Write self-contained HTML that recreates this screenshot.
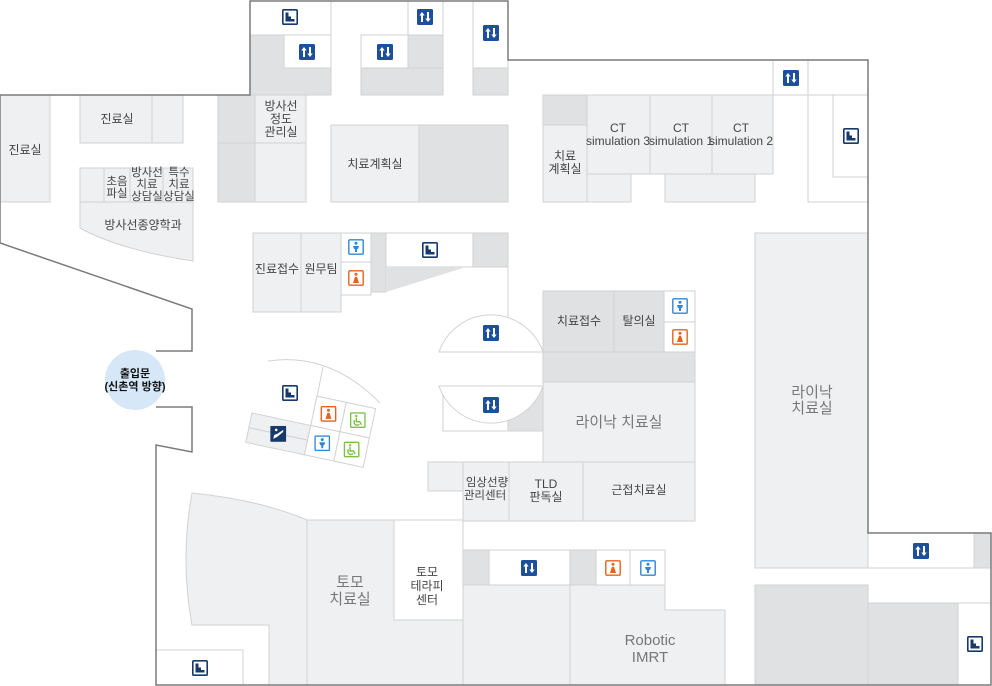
<!DOCTYPE html>
<html><head><meta charset="utf-8"><style>
html,body{margin:0;padding:0;background:#fff;}
svg{display:block;}
text{font-family:"Liberation Sans","Noto Sans CJK KR",sans-serif;fill:#444;font-size:12px;text-anchor:middle;}
.big{font-size:15px;fill:#777;}
.s{font-size:11.5px;}
.l{fill:#eff0f2;stroke:#d2d2d2;stroke-width:1;}
.d{fill:#e0e1e3;stroke:#d2d2d2;stroke-width:1;}
.w{fill:#fff;stroke:#d2d2d2;stroke-width:1;}
</style></head><body>
<svg width="992" height="686" viewBox="0 0 992 686" xmlns="http://www.w3.org/2000/svg">
<defs>
<symbol id="ev" viewBox="0 0 16 16"><rect width="16" height="16" rx="1.5" fill="#1d4f9c"/><path d="M5 3 L2.3 6.5 H4 V13 H6 V6.5 H7.7 Z M11 13 L8.3 9.5 H10 V3 H12 V9.5 H13.7 Z" fill="#fff"/></symbol>
<symbol id="st" viewBox="0 0 16 16"><rect x="0.8" y="0.8" width="14.4" height="14.4" rx="1" fill="#fff" stroke="#17396b" stroke-width="1.6"/><path d="M3.5 3.5 H6.5 V7.5 H9 V10 H12.5 V12.5 H3.5 Z" fill="#17396b"/></symbol>
<symbol id="ml" viewBox="0 0 16 16"><rect x="0.8" y="0.8" width="14.4" height="14.4" rx="1" fill="#fff" stroke="#2f86d6" stroke-width="1.4"/><circle cx="8" cy="4.3" r="1.5" fill="#2f86d6"/><path d="M5 7 H11 L10 10 H9 V13 H7 V10 H6 Z" fill="#2f86d6"/></symbol>
<symbol id="fm" viewBox="0 0 16 16"><rect x="0.8" y="0.8" width="14.4" height="14.4" rx="1" fill="#fff" stroke="#e8621f" stroke-width="1.4"/><circle cx="8" cy="4.3" r="1.5" fill="#e8621f"/><path d="M7 6.8 H9 L11 13 H5 Z" fill="#e8621f"/></symbol>
<symbol id="wc" viewBox="0 0 16 16"><rect x="0.8" y="0.8" width="14.4" height="14.4" rx="1" fill="#fff" stroke="#7ac143" stroke-width="1.4"/><circle cx="6.5" cy="3.8" r="1.2" fill="#7ac143"/><path d="M6.5 5.5 V9.5 H10 L11.5 12.5 M5 8 A3 3 0 1 0 9.5 12" fill="none" stroke="#7ac143" stroke-width="1.4"/></symbol>
<symbol id="es" viewBox="0 0 16 16"><rect width="16" height="16" rx="1" fill="#17396b"/><circle cx="6" cy="4" r="1.3" fill="#fff"/><path d="M3 13 L7 11 L13 6 V4 L7 8 L4 9 Z" fill="#fff"/></symbol>
</defs>

<rect class="w" x="250" y="1" width="81" height="34"/>
<rect class="d" x="250" y="35" width="81" height="60"/>
<rect class="w" x="284" y="35" width="47" height="33"/>
<line x1="331" y1="1" x2="331" y2="95" stroke="#d2d2d2"/>
<rect class="w" x="408" y="1" width="35" height="34"/>
<rect class="d" x="408" y="35" width="35" height="60"/>
<rect class="d" x="361" y="68" width="82" height="27"/>
<rect class="w" x="361" y="35" width="47" height="33"/>
<rect class="w" x="473" y="1" width="35" height="67"/>
<rect class="d" x="473" y="68" width="35" height="27"/>
<use href="#st" x="282" y="9" width="16" height="16"/>
<use href="#ev" x="299" y="44" width="16" height="16"/>
<use href="#ev" x="377" y="44" width="16" height="16"/>
<use href="#ev" x="417" y="9" width="16" height="16"/>
<use href="#ev" x="483" y="25" width="16" height="16"/>

<rect class="l" x="0" y="95" width="50" height="107"/>
<text x="25" y="154">진료실</text>
<rect class="l" x="80" y="95" width="72" height="48"/>
<rect class="l" x="152" y="95" width="31" height="48"/>
<text x="117" y="123">진료실</text>
<rect class="l" x="80" y="168" width="24" height="34"/>
<rect class="l" x="104" y="168" width="26" height="34"/>
<rect class="l" x="130" y="168" width="33" height="34"/>
<rect class="l" x="163" y="168" width="30" height="34"/>
<text class="s" x="117" y="185">초음</text><text class="s" x="117" y="197">파실</text>
<text class="s" x="147" y="176">방사선</text><text class="s" x="147" y="188">치료</text><text class="s" x="147" y="200">상담실</text>
<text class="s" x="179" y="176">특수</text><text class="s" x="179" y="188">치료</text><text class="s" x="179" y="200">상담실</text>
<path class="l" d="M80 202 H193 V261 Q120 250 80 228 Z"/>
<text x="143" y="229">방사선종양학과</text>

<rect class="d" x="218" y="95" width="37" height="48"/>
<rect class="l" x="255" y="95" width="51" height="48"/>
<rect class="d" x="218" y="143" width="37" height="59"/>
<rect class="l" x="255" y="143" width="51" height="59"/>
<text x="281" y="110">방사선</text><text x="281" y="123">정도</text><text x="281" y="136">관리실</text>

<rect class="l" x="331" y="125" width="88" height="77"/>
<rect class="d" x="419" y="125" width="89" height="77"/>
<text x="375" y="168">치료계획실</text>

<rect class="d" x="543" y="95" width="44" height="30"/>
<rect class="l" x="543" y="125" width="44" height="77"/>
<text x="565" y="160">치료</text><text x="565" y="173">계획실</text>
<rect class="l" x="587" y="174" width="44" height="28"/>
<rect class="l" x="665" y="174" width="90" height="28"/>
<rect class="l" x="587" y="95" width="63" height="79"/>
<rect class="l" x="650" y="95" width="62" height="79"/>
<rect class="l" x="712" y="95" width="61" height="79"/>
<text x="618" y="132">CT</text><text x="618" y="145">simulation 3</text>
<text x="681" y="132">CT</text><text x="681" y="145">simulation 1</text>
<text x="741" y="132">CT</text><text x="741" y="145">simulation 2</text>

<rect class="w" x="773" y="60" width="35" height="35"/>
<rect class="w" x="808" y="60" width="60" height="35"/>
<rect class="w" x="808" y="95" width="60" height="107"/>
<rect class="w" x="833" y="95" width="35" height="82"/>
<use href="#ev" x="783" y="70" width="16" height="16"/>
<use href="#st" x="843" y="128" width="16" height="16"/>

<rect class="l" x="253" y="233" width="48" height="79"/>
<rect class="l" x="301" y="233" width="40" height="79"/>
<text x="277" y="273">진료접수</text><text x="321" y="273">원무팀</text>
<rect class="w" x="341" y="233" width="30" height="29"/>
<rect class="w" x="341" y="262" width="30" height="33"/>
<use href="#ml" x="348" y="239" width="16" height="16"/>
<use href="#fm" x="348" y="270" width="16" height="16"/>
<rect class="d" x="371" y="233" width="15" height="59"/>
<rect class="w" x="386" y="233" width="87" height="34"/>
<path d="M386 267 H466 L386 292 Z" fill="#e0e1e3"/>
<rect class="d" x="473" y="233" width="35" height="34"/>
<line x1="508" y1="267" x2="508" y2="330" stroke="#d2d2d2"/>
<use href="#st" x="422" y="242" width="16" height="16"/>

<rect class="w" x="443" y="386" width="65" height="45"/>
<rect class="d" x="508" y="386" width="35" height="45"/>
<path d="M439 352 A55 55 0 0 1 543 352 Z" fill="#fff" stroke="#d2d2d2"/>
<path d="M439 386 A55 55 0 0 0 543 386 Z" fill="#fff" stroke="#d2d2d2"/>
<use href="#ev" x="483" y="325" width="16" height="16"/>
<use href="#ev" x="483" y="397" width="16" height="16"/>

<rect class="d" x="543" y="291" width="71" height="61"/>
<rect class="d" x="614" y="291" width="50" height="61"/>
<text x="579" y="325">치료접수</text><text x="639" y="325">탈의실</text>
<rect class="w" x="664" y="291" width="31" height="31"/>
<rect class="w" x="664" y="322" width="31" height="30"/>
<use href="#ml" x="672" y="298" width="16" height="16"/>
<use href="#fm" x="672" y="329" width="16" height="16"/>
<rect class="d" x="543" y="352" width="152" height="30"/>
<rect class="l" x="543" y="382" width="152" height="80"/>
<text class="big" x="619" y="427">라이낙 치료실</text>

<rect class="l" x="428" y="462" width="35" height="29"/>
<rect class="l" x="463" y="462" width="46" height="59"/>
<rect class="l" x="509" y="462" width="74" height="59"/>
<rect class="l" x="583" y="462" width="112" height="59"/>
<text class="s" x="487" y="486">임상선량</text><text class="s" x="485" y="499">관리센터</text>
<text x="546" y="488">TLD</text><text x="546" y="501">판독실</text>
<text x="639" y="494">근접치료실</text>

<rect class="l" x="755" y="233" width="113" height="335"/>
<text class="big" x="812" y="397">라이낙</text><text class="big" x="812" y="413">치료실</text>
<rect class="w" x="868" y="533" width="106" height="35"/>
<rect class="d" x="974" y="533" width="17" height="35"/>
<use href="#ev" x="913" y="543" width="16" height="16"/>
<rect class="d" x="755" y="585" width="113" height="100"/>
<rect class="d" x="868" y="603" width="90" height="82"/>
<rect class="w" x="958" y="603" width="33" height="82"/>
<use href="#st" x="967" y="636" width="16" height="16"/>

<path class="l" d="M192 493 Q260 500 307 520 V685 H269 V625 H192 Q180 560 192 493 Z"/>
<path class="l" d="M307 520 H394 V620 H463 V685 H307 Z"/>
<rect class="w" x="394" y="520" width="69" height="100"/>
<text class="big" x="350" y="587">토모</text><text class="big" x="350" y="604">치료실</text>
<text x="427" y="576">토모</text><text x="427" y="590">테라피</text><text x="427" y="604">센터</text>
<rect class="w" x="156" y="650" width="87" height="35"/>
<use href="#st" x="192" y="660" width="16" height="16"/>

<rect class="d" x="463" y="550" width="26" height="35"/>
<rect class="w" x="489" y="550" width="81" height="35"/>
<rect class="d" x="570" y="550" width="26" height="35"/>
<rect class="w" x="596" y="550" width="34" height="35"/>
<rect class="w" x="630" y="550" width="35" height="35"/>
<use href="#ev" x="521" y="560" width="16" height="16"/>
<use href="#fm" x="605" y="560" width="16" height="16"/>
<use href="#ml" x="640" y="560" width="16" height="16"/>
<rect class="l" x="463" y="585" width="107" height="100"/>
<path class="l" d="M570 585 H665 V610 H725 V685 H570 Z"/>
<text class="big" x="650" y="645">Robotic</text><text class="big" x="650" y="662">IMRT</text>

<path d="M268 361 Q330 352 380 403" fill="none" stroke="#d2d2d2"/>
<line x1="323" y1="367" x2="317" y2="397" stroke="#d2d2d2"/>
<use href="#st" x="282" y="385" width="16" height="16"/>
<g transform="translate(252 413) rotate(12)">
<rect class="l" x="0" y="0" width="60" height="15"/>
<rect class="l" x="0" y="15" width="60" height="15"/>
<rect class="w" x="60" y="-30" width="30" height="30"/>
<rect class="w" x="90" y="-30" width="30" height="30"/>
<rect class="w" x="60" y="0" width="30" height="30"/>
<rect class="w" x="90" y="0" width="30" height="30"/>
<use href="#es" x="22" y="7" width="16" height="16" transform="rotate(-12 30 15)"/>
<use href="#fm" x="67" y="-23" width="16" height="16" transform="rotate(-12 75 -15)"/>
<use href="#wc" x="97" y="-23" width="16" height="16" transform="rotate(-12 105 -15)"/>
<use href="#ml" x="67" y="7" width="16" height="16" transform="rotate(-12 75 15)"/>
<use href="#wc" x="97" y="7" width="16" height="16" transform="rotate(-12 105 15)"/>
</g>

<path d="M0 95 H250 V1 H508 V60 H868 V533 H991 V685 H156 V445 L192 452 V407 H156 M156 351 H192 V309 L0 243 V95" fill="none" stroke="#7a7a7a" stroke-width="1.5"/>

<circle cx="135" cy="380" r="30" fill="#d6e8f8"/>
<text x="135" y="377" style="font-weight:bold;fill:#111;font-size:11px">출입문</text>
<text x="135" y="390" style="font-weight:bold;fill:#111;font-size:11px">(신촌역 방향)</text>
</svg>
</body></html>
